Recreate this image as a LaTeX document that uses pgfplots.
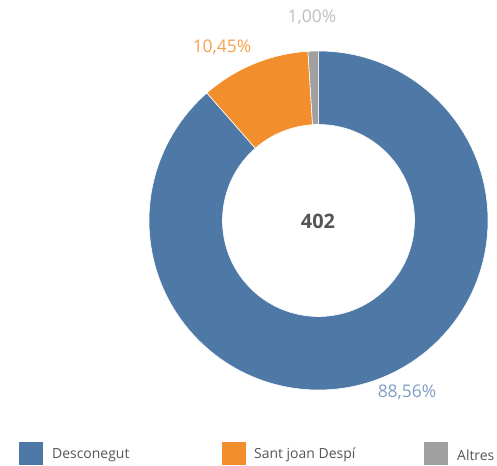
\documentclass[border=0pt]{standalone}
\usepackage{pgfplots}
\pgfplotsset{compat=1.18}
\usepackage{pgfplotstable}
\usepackage{fontspec}
\setmainfont{Open Sans}
\definecolor{cBlue}{HTML}{4E79A7}
\definecolor{cOrange}{HTML}{F28E2B}
\definecolor{cGray}{HTML}{A0A0A0}
\definecolor{lBlue}{HTML}{7F9DC3}
\definecolor{lOrange}{HTML}{F5A24E}
\definecolor{lGray}{HTML}{BEBEBE}
\definecolor{txt}{HTML}{555555}

% share of each slice, in percent
\pgfplotstableread[col sep=comma]{
label,value
Desconegut,88.56
Sant joan Despí,10.45
Altres,1.00
}\slices

\begin{document}
\begin{tikzpicture}
\path[use as bounding box] (0,0) rectangle (497bp,466bp);

\pgfplotstablegetelem{0}{value}\of\slices \pgfmathsetmacro\vA{\pgfplotsretval}
\pgfplotstablegetelem{1}{value}\of\slices \pgfmathsetmacro\vB{\pgfplotsretval}
\pgfplotstablegetelem{2}{value}\of\slices \pgfmathsetmacro\vC{\pgfplotsretval}
% clockwise from the top
\pgfmathsetmacro\aA{90}
\pgfmathsetmacro\aB{\aA-3.6*\vA}
\pgfmathsetmacro\aC{\aB-3.6*\vB}
\pgfmathsetmacro\aD{\aC-3.6*\vC}
\def\R{169.5bp}
\def\r{96bp}
\def\dR{73.5bp}

\begin{axis}[
  at={(0,0)}, anchor=origin,
  scale only axis, width=497bp, height=466bp,
  xmin=0, xmax=497, ymin=0, ymax=466,
  hide axis, clip=false,
]
\fill[cBlue,draw=white,line width=0.6pt] (axis cs:318.5,245.5) ++(\aA:\R)
  arc[start angle=\aA,end angle=\aB,radius=\R] -- ++(\aB+180:\dR)
  arc[start angle=\aB,end angle=\aA,radius=\r] -- cycle;
\fill[cOrange,draw=white,line width=0.6pt] (axis cs:318.5,245.5) ++(\aB:\R)
  arc[start angle=\aB,end angle=\aC,radius=\R] -- ++(\aC+180:\dR)
  arc[start angle=\aC,end angle=\aB,radius=\r] -- cycle;
\fill[cGray,draw=white,line width=0.6pt] (axis cs:318.5,245.5) ++(\aC:\R)
  arc[start angle=\aC,end angle=\aD,radius=\R] -- ++(\aD+180:\dR)
  arc[start angle=\aD,end angle=\aC,radius=\r] -- cycle;

\node[font=\fontsize{17.5}{20}\selectfont,text=lGray] at (axis cs:312,449) {1,00\%};
\node[font=\fontsize{17.5}{20}\selectfont,text=lOrange] at (axis cs:222,419) {10,45\%};
\node[font=\fontsize{17.5}{20}\selectfont,text=lBlue] at (axis cs:407,74) {88,56\%};
\node[font=\bfseries\fontsize{20}{23}\selectfont,text=txt] at (axis cs:318,244.5) {402};

% legend
\fill[cBlue] (axis cs:19,1) rectangle (axis cs:43,24);
\node[anchor=west,inner sep=0pt,font=\fontsize{14}{16}\selectfont,text=txt] at (axis cs:52,11) {Desconegut};
\fill[cOrange] (axis cs:222,1) rectangle (axis cs:246,24);
\node[anchor=west,inner sep=0pt,font=\fontsize{14}{16}\selectfont,text=txt] at (axis cs:254,11) {Sant joan Despí};
\fill[cGray] (axis cs:424,1) rectangle (axis cs:448,24);
\node[anchor=west,inner sep=0pt,font=\fontsize{14}{16}\selectfont,text=txt] at (axis cs:457,11) {Altres};
\end{axis}
\end{tikzpicture}
\end{document}
